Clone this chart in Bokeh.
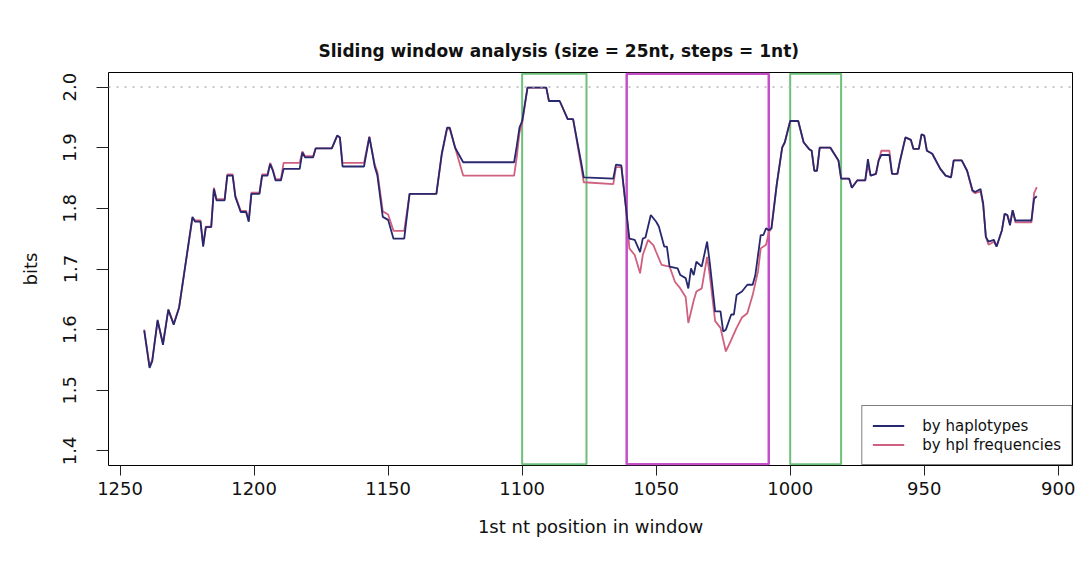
from bokeh.plotting import figure
from bokeh.models import Range1d, FixedTicker, Span, Legend, LegendItem, PrintfTickFormatter
from bokeh.embed import file_html
from bokeh.resources import INLINE

# ---------------- data ----------------
title_text = "Sliding window analysis (size = 25nt, steps = 1nt)"
x_label = "1st nt position in window"
y_label = "bits"
series_names = ["by haplotypes", "by hpl frequencies"]

x_ticks = [1250, 1200, 1150, 1100, 1050, 1000, 950, 900]
y_ticks = [1.4, 1.5, 1.6, 1.7, 1.8, 1.9, 2.0]

hap_x = [1241, 1239, 1238, 1236, 1234, 1232, 1230, 1228, 1223, 1222, 1220, 1219, 1218, 1216,
         1215, 1214, 1211, 1210, 1208, 1207, 1205, 1203, 1202, 1201, 1198, 1197, 1195, 1194,
         1193, 1192, 1190, 1189, 1183, 1182, 1181, 1178, 1177, 1171, 1169, 1168, 1167, 1159,
         1157, 1155, 1154, 1152, 1150, 1148, 1144, 1142, 1132, 1130, 1128, 1127, 1125, 1122,
         1103, 1102, 1101, 1100, 1098, 1091, 1090, 1086, 1083, 1081, 1078, 1077, 1066, 1065,
         1063, 1061, 1060, 1058, 1056, 1055, 1054, 1052, 1050, 1049, 1047, 1046, 1045, 1042,
         1041, 1039, 1038, 1037, 1036, 1035, 1033, 1031, 1030, 1028, 1026, 1025, 1024, 1022,
         1021, 1020, 1018, 1016, 1014, 1013, 1011, 1010, 1009, 1008, 1007, 1005, 1003, 1002,
         1000, 997, 995, 993, 992, 991, 990, 989, 985, 982, 981, 978, 977, 975, 972, 971, 970,
         968, 967, 966, 963, 962, 960, 959, 957, 955, 954, 952, 951, 950, 949, 947, 944, 942,
         940, 939, 936, 934, 932, 931, 929, 928, 927, 926, 924, 923, 921, 920, 919, 918, 917,
         916, 910, 909, 908]
hap_y = [1.599, 1.537, 1.548, 1.616, 1.575, 1.633, 1.608, 1.636, 1.786, 1.778, 1.778, 1.737, 1.769, 1.769,
         1.832, 1.813, 1.813, 1.854, 1.854, 1.819, 1.794, 1.794, 1.778, 1.824, 1.824, 1.854, 1.854, 1.873,
         1.862, 1.846, 1.846, 1.865, 1.865, 1.892, 1.884, 1.884, 1.899, 1.899, 1.920, 1.917, 1.869, 1.869,
         1.918, 1.869, 1.854, 1.786, 1.781, 1.750, 1.750, 1.824, 1.824, 1.890, 1.933, 1.933, 1.900, 1.876,
         1.876, 1.903, 1.933, 1.944, 1.999, 1.999, 1.977, 1.977, 1.947, 1.947, 1.876, 1.851, 1.849, 1.872,
         1.871, 1.790, 1.750, 1.748, 1.728, 1.750, 1.752, 1.789, 1.778, 1.770, 1.737, 1.737, 1.704, 1.701,
         1.690, 1.685, 1.668, 1.701, 1.690, 1.712, 1.704, 1.745, 1.710, 1.630, 1.630, 1.597, 1.600, 1.625,
         1.625, 1.657, 1.663, 1.674, 1.674, 1.690, 1.756, 1.756, 1.767, 1.764, 1.767, 1.840, 1.900, 1.909,
         1.944, 1.944, 1.909, 1.898, 1.895, 1.862, 1.862, 1.900, 1.900, 1.879, 1.849, 1.849, 1.834, 1.846,
         1.846, 1.881, 1.854,
         1.857, 1.879, 1.888, 1.888, 1.857, 1.857, 1.879, 1.917, 1.913, 1.898, 1.898, 1.922, 1.920, 1.895,
         1.890, 1.865, 1.854,
         1.851, 1.879, 1.879, 1.862, 1.830, 1.827, 1.832, 1.808, 1.753, 1.745, 1.748, 1.737, 1.764, 1.791,
         1.789, 1.772, 1.797,
         1.780, 1.780, 1.816, 1.820]

frq_x = [1241, 1239, 1238, 1236, 1234, 1232, 1230, 1228, 1223, 1222, 1220, 1219, 1218, 1216,
         1215, 1214, 1211, 1210, 1208, 1207, 1205, 1203, 1202, 1201, 1198, 1197, 1195, 1194,
         1193, 1192, 1190, 1189, 1183, 1182, 1181, 1178, 1177, 1171, 1169, 1168, 1167, 1159,
         1157, 1155, 1154, 1152, 1150, 1148, 1144, 1142, 1132, 1130, 1128, 1127, 1125, 1122,
         1103, 1102, 1101, 1100, 1098, 1091, 1090, 1086, 1083, 1081, 1078, 1077, 1066, 1065,
         1063, 1061, 1060, 1058, 1056, 1055, 1053, 1051, 1050, 1048, 1045, 1043, 1041, 1039,
         1038, 1036, 1035, 1033, 1031, 1030, 1028, 1026, 1024, 1022, 1020, 1018, 1016, 1014,
         1012, 1011, 1009, 1008, 1007, 1005, 1003, 1002,
         1000, 997, 995, 993, 992, 991, 990, 989, 985, 982, 981, 978, 977, 975, 972, 971, 970,
         968, 967, 966, 963, 962, 960, 959, 957, 955, 954, 952, 951, 950, 949, 947, 944, 942,
         940, 939, 936, 934, 932, 931, 929, 928, 927, 926, 924, 923, 921, 920, 919, 918, 917,
         916, 910, 909, 908]
frq_y = [1.600, 1.540, 1.550, 1.614, 1.578, 1.633, 1.610, 1.636, 1.784, 1.780, 1.780, 1.740, 1.770, 1.770,
         1.834, 1.815, 1.815, 1.856, 1.856, 1.821, 1.796, 1.796, 1.780, 1.826, 1.826, 1.856, 1.856, 1.875,
         1.864, 1.848, 1.848, 1.875, 1.875, 1.894, 1.886, 1.886, 1.899, 1.899, 1.920, 1.917, 1.875, 1.875,
         1.918, 1.872, 1.860, 1.795, 1.790, 1.763, 1.763, 1.824, 1.824, 1.888, 1.931, 1.931, 1.900, 1.854,
         1.854, 1.885, 1.925, 1.940, 1.999, 1.999, 1.977, 1.977, 1.947, 1.947, 1.870, 1.843, 1.840, 1.868,
         1.868, 1.790, 1.734, 1.723, 1.693, 1.723, 1.748, 1.739, 1.728, 1.707, 1.704, 1.679, 1.668, 1.654,
         1.611, 1.648, 1.663, 1.668, 1.720, 1.690, 1.614, 1.603, 1.564, 1.583, 1.603, 1.620, 1.627, 1.657,
         1.696, 1.734, 1.740, 1.760, 1.767, 1.840, 1.900, 1.909,
         1.944, 1.944, 1.909, 1.898, 1.895, 1.862, 1.862, 1.900, 1.900, 1.879, 1.849, 1.849, 1.834, 1.846,
         1.846, 1.872, 1.854,
         1.857, 1.879, 1.895, 1.895, 1.857, 1.857, 1.879, 1.917, 1.913, 1.898, 1.898, 1.922, 1.920, 1.895,
         1.890, 1.865, 1.854,
         1.851, 1.879, 1.879, 1.862, 1.828, 1.825, 1.828, 1.805, 1.753, 1.740, 1.745, 1.737, 1.764, 1.791,
         1.789, 1.775, 1.797,
         1.777, 1.777, 1.825, 1.835]

# highlighted windows (left/right edge in nt)
box_left = [1100, 1061, 1000]
box_right = [1076, 1008, 981]
box_colors = ["#6cc07a", "#c64fc8", "#6cc07a"]
box_widths = [2, 2.5, 2]

ref_level = 2.0

# ---------------- figure ----------------
FONT = "DejaVu Sans"
p = figure(width=1081, height=565, output_backend="svg", toolbar_location=None,
           x_range=Range1d(1254.32, 894.68), y_range=Range1d(1.376, 2.024),
           min_border_left=108, min_border_right=9, min_border_top=72, min_border_bottom=100,
           background_fill_color="white", border_fill_color="white")
p.xgrid.visible = False
p.ygrid.visible = False
p.outline_line_color = "black"
p.outline_line_width = 1

p.title.text = title_text
p.title.align = "left"
p.title.offset = 210
p.title.text_font = FONT
p.title.text_font_size = "17px"
p.title.text_font_style = "bold"
p.title.text_color = "#111111"
p.title.standoff = 23

for ax in (p.xaxis, p.yaxis):
    ax.axis_line_color = None
    ax.minor_tick_line_color = None
    ax.major_tick_in = 0
    ax.major_tick_line_color = "#222222"
    ax.major_label_text_font = FONT
    ax.major_label_text_font_size = "18px"
    ax.major_label_text_color = "#111111"
    ax.axis_label_text_font = FONT
    ax.axis_label_text_font_size = "18px"
    ax.axis_label_text_font_style = "normal"
    ax.axis_label_text_color = "#111111"

p.xaxis.ticker = FixedTicker(ticks=x_ticks)
p.xaxis.formatter = PrintfTickFormatter(format="%d")
p.xaxis.major_tick_out = 10
p.xaxis.major_label_standoff = 6
p.xaxis.axis_label = x_label
p.xaxis.axis_label_standoff = 18

p.yaxis.ticker = FixedTicker(ticks=y_ticks)
p.yaxis.formatter = PrintfTickFormatter(format="%.1f")
p.yaxis.major_tick_out = 12
p.yaxis.major_label_standoff = 20
p.yaxis.major_label_orientation = "vertical"
p.yaxis.axis_label = y_label
p.yaxis.axis_label_standoff = 20

p.add_layout(Span(location=ref_level, dimension="width", line_color="#b5b5b5",
                  line_dash="2 6", line_width=1.5))

p.quad(left=box_left, right=box_right, top=2.022, bottom=1.378, fill_color=None,
       line_color=box_colors, line_width=box_widths)

r_frq = p.line(frq_x, frq_y, line_color="#d0607f", line_width=1.8)
r_hap = p.line(hap_x, hap_y, line_color="#28286e", line_width=1.8)

legend = Legend(items=[LegendItem(label=series_names[0], renderers=[r_hap]),
                       LegendItem(label=series_names[1], renderers=[r_frq])],
                location="bottom_right", margin=0, padding=10, spacing=0,
                glyph_width=32, glyph_height=19, label_height=19, label_standoff=18,
                label_text_font=FONT, label_text_font_size="15px", label_text_color="#111111",
                border_line_color="black", border_line_width=1,
                background_fill_color="white", background_fill_alpha=1)
p.add_layout(legend)

open("out.html", "w").write(file_html(p, INLINE))
